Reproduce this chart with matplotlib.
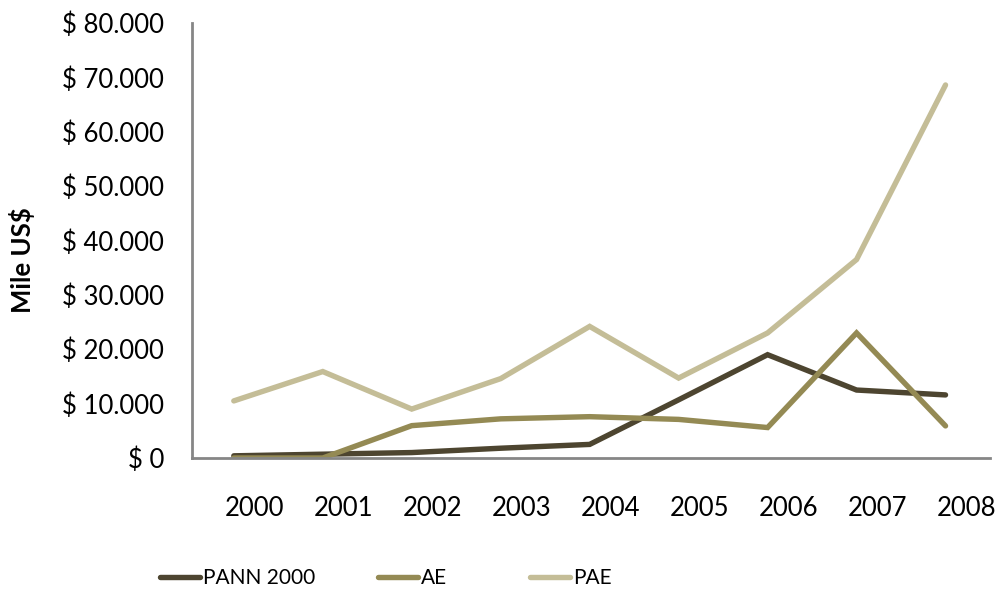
import numpy as np
import matplotlib
matplotlib.use("Agg")
import matplotlib.pyplot as plt
import matplotlib.transforms as mtransforms

plt.rcParams["font.family"] = ["Lato", "DejaVu Sans"]

years = ["2000", "2001", "2002", "2003", "2004", "2005", "2006", "2007", "2008"]
pann_2000 = [400, 700, 1000, 1800, 2500, 10700, 19000, 12500, 11600]
ae = [0, 0, 5950, 7200, 7600, 7100, 5600, 23000, 5900]
pae = [10500, 15900, 9000, 14600, 24200, 14700, 23000, 36500, 68600]

y_ticks = [0, 10000, 20000, 30000, 40000, 50000, 60000, 70000, 80000]
y_tick_labels = ["$ 0", "$ 10.000", "$ 20.000", "$ 30.000", "$ 40.000",
                 "$ 50.000", "$ 60.000", "$ 70.000", "$ 80.000"]

series_names = ["PANN 2000", "AE", "PAE"]
colors = ["#4d4530", "#948a54", "#c4bd97"]
legend_x = [160, 378, 530]  # legend entry positions in pixels

fig = plt.figure(figsize=(9.99, 5.92), dpi=100)
ax = fig.add_axes([192 / 999, 1 - 458 / 592, 798 / 999, 435 / 592])

x = np.arange(len(years))
lines = []
for vals, name, c in zip([pann_2000, ae, pae], series_names, colors):
    ln, = ax.plot(x, vals, color=c, lw=3.9, label=name, solid_capstyle="round",
                  solid_joinstyle="miter")
    lines.append(ln)

ax.set_xlim(-0.47, 8.5)
ax.set_ylim(0, 80000)
ax.set_yticks(y_ticks)
ax.set_yticklabels(y_tick_labels, fontsize=18.5)
ax.set_xticks(x)
ax.set_xticklabels(years, fontsize=18.5)
ax.tick_params(axis="both", length=0)
ax.tick_params(axis="y", pad=20)
ax.tick_params(axis="x", pad=27)

# x labels sit a bit to the right of the data points
offset = mtransforms.ScaledTranslation(21 / 100, 0, fig.dpi_scale_trans)
for lbl in ax.get_xticklabels():
    lbl.set_transform(lbl.get_transform() + offset)

for s in ["top", "right"]:
    ax.spines[s].set_visible(False)
for s in ["left", "bottom"]:
    ax.spines[s].set_color("#868686")
    ax.spines[s].set_linewidth(2)

ax.set_ylabel("Mile US$", fontsize=18.5, fontweight="bold")
ax.yaxis.set_label_coords(-0.197, 0.455)

for ln, lx in zip(lines, legend_x):
    leg = fig.legend(handles=[ln], loc="center left",
                     bbox_to_anchor=(lx / 999, 1 - 578 / 592),
                     frameon=False, handlelength=1.9, handletextpad=0.15,
                     borderpad=0, borderaxespad=0, fontsize=15)

fig.savefig("out.png", dpi=100)
